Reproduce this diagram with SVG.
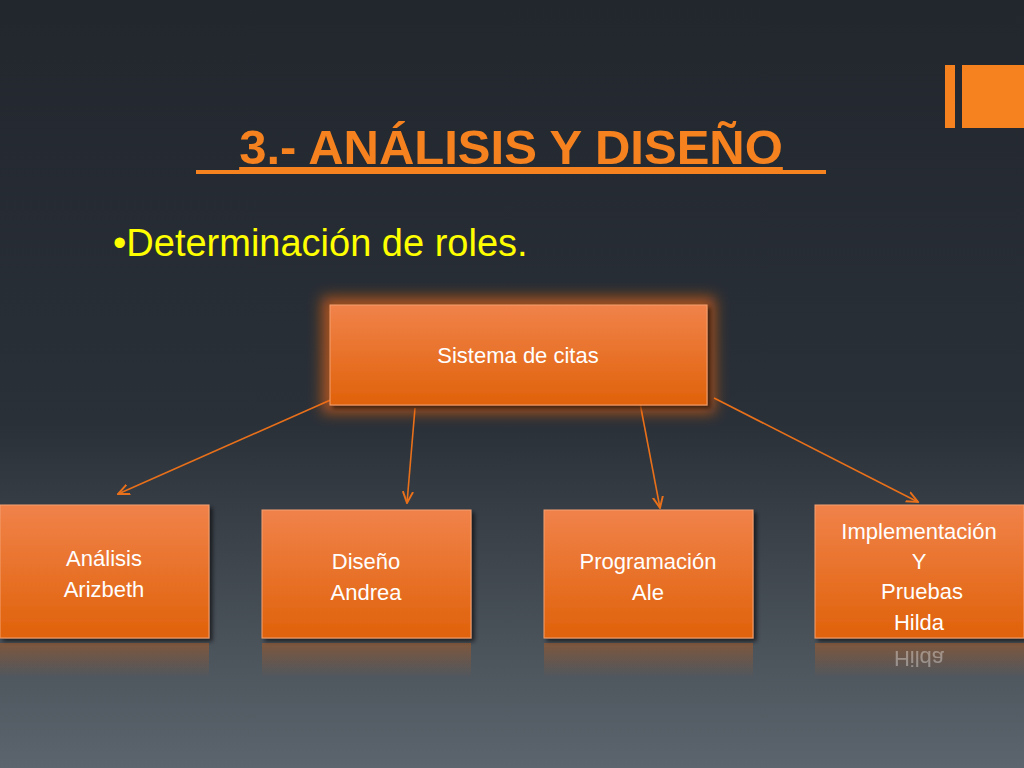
<svg xmlns="http://www.w3.org/2000/svg" width="1024" height="768" viewBox="0 0 1024 768">
<defs>
<linearGradient id="bg" x1="0" y1="0" x2="0" y2="1">
<stop offset="0" stop-color="#22272e"/><stop offset="0.55" stop-color="#2a3038"/><stop offset="1" stop-color="#5c656d"/>
</linearGradient>
<linearGradient id="box" x1="0" y1="0" x2="0" y2="1">
<stop offset="0" stop-color="#f0824a"/><stop offset="1" stop-color="#e0620a"/>
</linearGradient>
<linearGradient id="refl" x1="0" y1="0" x2="0" y2="1">
<stop offset="0" stop-color="#e0620a" stop-opacity="0.35"/><stop offset="1" stop-color="#e0620a" stop-opacity="0"/>
</linearGradient>
<filter id="glow" x="-20%" y="-40%" width="140%" height="180%"><feGaussianBlur stdDeviation="7"/></filter>
<filter id="sh" x="-10%" y="-10%" width="130%" height="130%"><feDropShadow dx="3" dy="3" stdDeviation="2" flood-color="#000" flood-opacity="0.6"/></filter>
<marker id="ah" viewBox="0 0 10 10" refX="9" refY="5" markerWidth="8" markerHeight="8" orient="auto"><path d="M0,1 L9,5 L0,9" fill="none" stroke="#e8701a" stroke-width="1.5"/></marker>
</defs>
<style>
.b{fill:url(#box);stroke:#f4a070;stroke-width:1;filter:url(#sh)}
.t{font-family:"Liberation Sans",Arial,sans-serif;fill:#fff;font-size:22px;text-anchor:middle}
.c{stroke:#e8701a;stroke-width:1.6;fill:none;marker-end:url(#ah)}
</style>
<rect width="1024" height="768" fill="url(#bg)"/>
<rect x="945" y="65" width="10" height="63" fill="#f5821f"/>
<rect x="962" y="65" width="62" height="63" fill="#f5821f"/>
<text x="511" y="164" font-family="Liberation Sans,Arial,sans-serif" font-weight="bold" font-size="49" fill="#f5821f" text-anchor="middle" text-decoration="underline">3.- ANÁLISIS Y DISEÑO</text>
<rect x="196" y="170" width="630" height="4" fill="#f5821f"/>
<text x="113" y="256" font-family="Liberation Sans,Arial,sans-serif" font-size="38" fill="#ffff00">•Determinación de roles.</text>
<g id="connectors">
<line class="c" x1="335" y1="398" x2="118" y2="494"/>
<line class="c" x1="415" y1="408" x2="407" y2="503"/>
<line class="c" x1="640" y1="403" x2="660" y2="508"/>
<line class="c" x1="714" y1="398" x2="918" y2="502"/>
</g>
<g id="n0">
<rect x="322" y="297" width="393" height="116" fill="#ff6a10" opacity="0.6" filter="url(#glow)"/>
<rect class="b" x="330" y="305" width="377" height="100"/>
<text class="t" x="518" y="363">Sistema de citas</text>
</g>
<g id="n1"><rect class="b" x="0" y="505" width="209" height="133"/>
<rect x="0" y="643" width="209" height="35" fill="url(#refl)"/>
<text class="t" x="104" y="566">Análisis</text><text class="t" x="104" y="597">Arizbeth</text></g>
<g id="n2"><rect class="b" x="262" y="510" width="209" height="128"/>
<rect x="262" y="643" width="209" height="35" fill="url(#refl)"/>
<text class="t" x="366" y="569">Diseño</text><text class="t" x="366" y="600">Andrea</text></g>
<g id="n3"><rect class="b" x="544" y="510" width="209" height="128"/>
<rect x="544" y="643" width="209" height="35" fill="url(#refl)"/>
<text class="t" x="648" y="569">Programación</text><text class="t" x="648" y="600">Ale</text></g>
<g id="n4"><rect class="b" x="815" y="505" width="209" height="133"/>
<rect x="815" y="643" width="209" height="35" fill="url(#refl)"/>
<text class="t" x="919" y="539">Implementación</text><text class="t" x="919" y="569">Y</text><text class="t" x="922" y="599">Pruebas</text><text class="t" x="919" y="630">Hilda</text>
<text class="t" transform="translate(919,651) scale(1,-1)" opacity="0.35">Hilda</text></g>
</svg>
